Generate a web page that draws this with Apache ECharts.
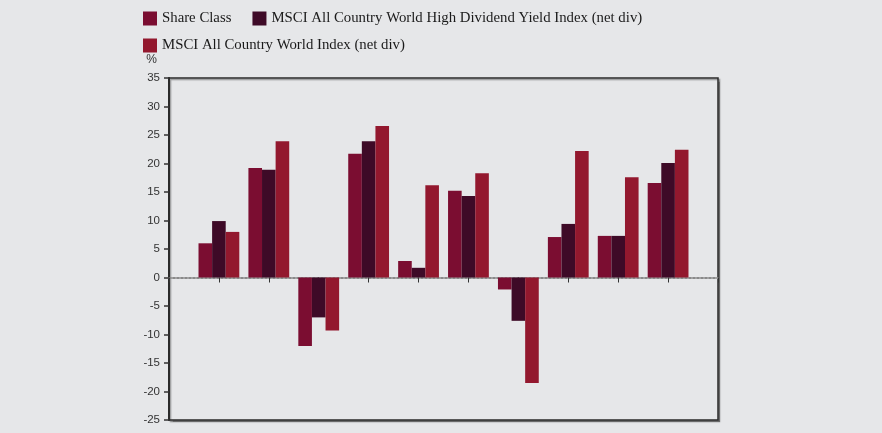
<!DOCTYPE html>
<html>
<head>
<meta charset="utf-8">
<script src="https://cdn.jsdelivr.net/npm/echarts@6/dist/echarts.min.js"></script>
<style>
  html, body { margin: 0; padding: 0; background: #e6e7e9; }
  #chart { width: 882px; height: 433px; }
</style>
</head>
<body>
<div id="chart"></div>
<script>
// empty slot at each end keeps the groups off the frame
const categories = ['', 'P1', 'P2', 'P3', 'P4', 'P5', 'P6', 'P7', 'P8', 'P9', 'P10', ''];
const shareClass = ['-', 6.0, 19.2, -12.0, 21.7, 2.9, 15.2, -2.1, 7.1, 7.3, 16.6, '-'];
const hdyIndex = ['-', 9.9, 18.9, -7.0, 23.9, 1.7, 14.3, -7.6, 9.4, 7.3, 20.1, '-'];
const acwiIndex = ['-', 8.0, 23.9, -9.3, 26.6, 16.2, 18.3, -18.5, 22.2, 17.6, 22.4, '-'];
const seriesNames = [
  'Share Class',
  'MSCI All Country World High Dividend Yield Index (net div)',
  'MSCI All Country World Index (net div)',
];
const colors = ['#7b0d31', '#3e0a27', '#93182e'];

const chart = echarts.init(document.getElementById('chart'));

const legendText = { color: '#1a1a1a', fontFamily: 'Liberation Serif', fontSize: 14.8 };

const makeBar = (name, data, color) => ({
  name,
  type: 'bar',
  data,
  barWidth: 13.6,
  barGap: '0%',
  itemStyle: { color },
});

chart.setOption({
  backgroundColor: '#e6e7e9',
  animation: false,
  color: colors,
  legend: [
    {
      data: [seriesNames[0], seriesNames[1]],
      left: 143,
      top: 11,
      padding: 0,
      itemWidth: 14,
      itemHeight: 14,
      itemGap: 21,
      icon: 'rect',
      textStyle: legendText,
    },
    {
      data: [seriesNames[2]],
      left: 143,
      top: 38,
      padding: 0,
      itemWidth: 14,
      itemHeight: 14,
      icon: 'rect',
      textStyle: legendText,
    },
  ],
  grid: {
    left: 169,
    right: 164,
    top: 78,
    bottom: 13,
    show: true,
    backgroundColor: '#e6e7e9',
    borderColor: '#2a2a2a',
    borderWidth: 1.5,
    shadowColor: 'rgba(0,0,0,0.35)',
    shadowBlur: 1,
    shadowOffsetX: 1.5,
    shadowOffsetY: 1.5,
  },
  xAxis: {
    type: 'category',
    data: categories,
    boundaryGap: false,
    axisLine: { onZero: true, lineStyle: { color: '#8a8a8a', width: 2, type: 'dotted' } },
    axisTick: { show: true, length: 5, lineStyle: { color: '#333', width: 1 } },
    axisLabel: { show: false },
    splitLine: { show: false },
  },
  yAxis: {
    type: 'value',
    min: -25,
    max: 35,
    interval: 5,
    name: '%',
    nameLocation: 'end',
    nameGap: 12,
    nameTextStyle: {
      color: '#333',
      fontFamily: 'Liberation Sans',
      fontSize: 12,
      align: 'right',
      padding: [0, 12, 0, 0],
    },
    axisLine: { show: true, lineStyle: { color: '#2a2a2a', width: 2 } },
    axisTick: { show: true, length: 5, lineStyle: { color: '#333', width: 1.5 } },
    axisLabel: { color: '#333', fontFamily: 'Liberation Sans', fontSize: 11.5, margin: 9 },
    splitLine: { show: false },
  },
  series: [
    makeBar(seriesNames[0], shareClass, colors[0]),
    makeBar(seriesNames[1], hdyIndex, colors[1]),
    makeBar(seriesNames[2], acwiIndex, colors[2]),
  ],
});
</script>
</body>
</html>
